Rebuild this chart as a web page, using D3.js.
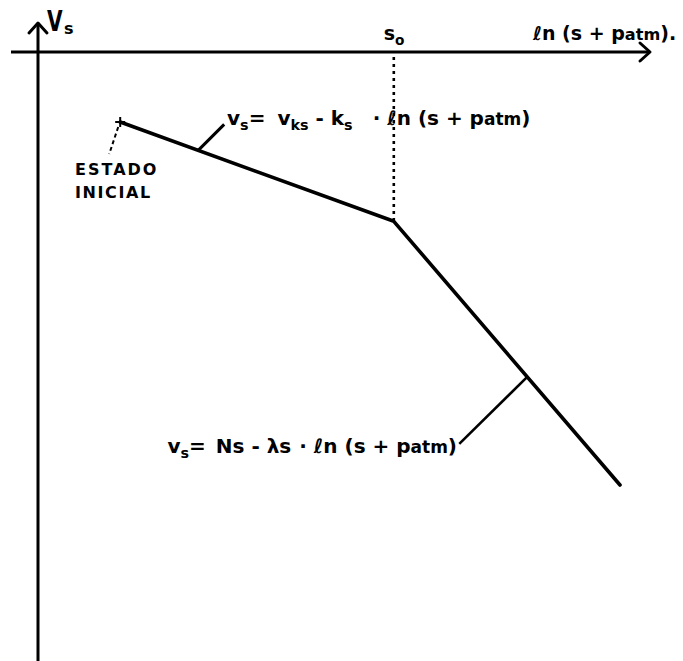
<!DOCTYPE html>
<html>
<head>
<meta charset="utf-8">
<script src="https://cdn.jsdelivr.net/npm/d3@7/dist/d3.min.js"></script>
<style>
  html, body { margin: 0; padding: 0; background: #fff; }
  svg text { font-family: "DejaVu Sans", "Liberation Sans", sans-serif; font-weight: bold; fill: #000; }
</style>
</head>
<body>
<svg id="chart" width="683" height="661"></svg>
<script>
// Compression path in the ln(s + patm) – v plane (arbitrary units)
const pathLabels = ["inicial", "s0", "final"];
const lnS = [1.37, 5.93, 9.7];
const vS = [8.85, 7.22, 2.89];

const svg = d3.select("#chart");
const H = 661;

const x = d3.scaleLinear().domain([0, 10.2]).range([38, 650]);
const y = d3.scaleLinear().domain([0, 10]).range([661, 52]);

const ink = "#000";

// Axes
svg.append("line").attr("x1", 11).attr("x2", x(10.2)).attr("y1", y(10)).attr("y2", y(10))
  .attr("stroke", ink).attr("stroke-width", 3);
svg.append("line").attr("x1", x(0)).attr("x2", x(0)).attr("y1", 23).attr("y2", H)
  .attr("stroke", ink).attr("stroke-width", 3);

// Arrowheads
svg.append("path")
  .attr("d", `M${x(10.2) - 10},${y(10) - 9} L${x(10.2)},${y(10)} L${x(10.2) - 10},${y(10) + 9}`)
  .attr("fill", "none").attr("stroke", ink).attr("stroke-width", 3)
  .attr("stroke-linecap", "round").attr("stroke-linejoin", "round");
svg.append("path")
  .attr("d", `M${x(0) - 9},${33} L${x(0)},${23} L${x(0) + 9},${33}`)
  .attr("fill", "none").attr("stroke", ink).attr("stroke-width", 3)
  .attr("stroke-linecap", "round").attr("stroke-linejoin", "round");

// Dotted guide at s0
svg.append("line")
  .attr("x1", x(lnS[1])).attr("x2", x(lnS[1]))
  .attr("y1", y(10) + 5).attr("y2", y(vS[1]))
  .attr("stroke", ink).attr("stroke-width", 2.6).attr("stroke-dasharray", "3,4");

// Bilinear path
const line = d3.line().x((d, i) => x(lnS[i])).y((d, i) => y(vS[i]));
svg.append("path").datum(pathLabels).attr("d", line)
  .attr("fill", "none").attr("stroke", ink).attr("stroke-width", 3.6)
  .attr("stroke-linejoin", "round").attr("stroke-linecap", "round");

// Initial state cross
const cx = x(lnS[0]), cy = y(vS[0]);
svg.append("path").attr("d", `M${cx - 5},${cy} L${cx + 5},${cy} M${cx},${cy - 5} L${cx},${cy + 5}`)
  .attr("stroke", ink).attr("stroke-width", 2);

// Dashed leader to "ESTADO INICIAL"
svg.append("line").attr("x1", cx - 2).attr("y1", cy + 5).attr("x2", cx - 11).attr("y2", cy + 32)
  .attr("stroke", ink).attr("stroke-width", 2).attr("stroke-dasharray", "4,3");

// Leaders to the equations
function along(i, t) {
  return [x(lnS[i] + (lnS[i + 1] - lnS[i]) * t), y(vS[i] + (vS[i + 1] - vS[i]) * t)];
}
const p1 = along(0, 0.285);
svg.append("line").attr("x1", p1[0]).attr("y1", p1[1]).attr("x2", p1[0] + 26).attr("y2", p1[1] - 26)
  .attr("stroke", ink).attr("stroke-width", 3);
const p2 = along(1, 0.59);
svg.append("line").attr("x1", p2[0]).attr("y1", p2[1]).attr("x2", p2[0] - 68).attr("y2", p2[1] + 67)
  .attr("stroke", ink).attr("stroke-width", 2.6);

// Text helper: parts are [text, kind, dx]; "n" normal, "sub" subscript,
// "back" normal returning from a subscript, "small" reduced size on baseline
function rich(xp, yp, parts, size, anchor) {
  const t = svg.append("text").attr("x", xp).attr("y", yp).attr("font-size", size)
    .attr("text-anchor", anchor || "start");
  parts.forEach(([s, k, dx]) => {
    const ts = t.append("tspan").text(s);
    if (k === "sub") ts.attr("font-size", size * 0.72).attr("dy", size * 0.25);
    else if (k === "back") ts.attr("dy", -size * 0.25);
    else if (k === "small") ts.attr("font-size", size * 0.85);
    if (dx) ts.attr("dx", dx);
  });
  return t;
}

// Axis labels
svg.append("g").attr("transform", "translate(47,31) scale(0.72,1)")
  .append("text").attr("font-size", 28).text("V");
rich(64, 34, [["s", "n"]], 16);
rich(x(lnS[1]) - 10, 40, [["s", "n"], ["o", "sub"]], 19);
rich(533, 40, [["ℓn (s + p", "n"], ["atm", "small"], [").", "n"]], 19);

// Equations
rich(227, 125, [["v", "n"], ["s", "sub"], ["=", "back"], ["v", "n", 12], ["ks", "sub"], [" - k", "back"],
  ["s", "sub"], ["·", "back", 20], [" ℓn (s + p", "n"], ["atm", "small"], [")", "n"]], 20);
rich(457, 453, [["v", "n"], ["s", "sub"], ["=", "back"], ["Ns - λs", "n", 10], ["·", "n", 8],
  [" ℓn (s + p", "n"], ["atm", "small"], [")", "n"]], 20, "end");

// Initial state label
svg.append("text").attr("x", 75).attr("y", 175).attr("font-size", 16).attr("letter-spacing", 2).text("ESTADO");
svg.append("text").attr("x", 75).attr("y", 198).attr("font-size", 16).attr("letter-spacing", 1.6).text("INICIAL");
</script>
</body>
</html>
